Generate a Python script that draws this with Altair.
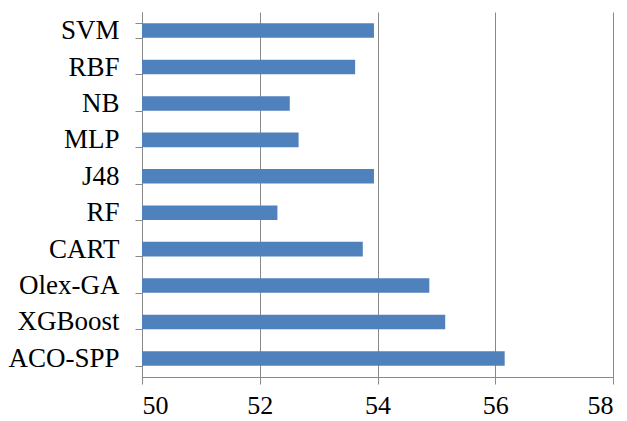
import altair as alt
import pandas as pd

categories = ["SVM", "RBF", "NB", "MLP", "J48", "RF", "CART", "Olex-GA", "XGBoost", "ACO-SPP"]
values = [53.94, 53.62, 52.51, 52.66, 53.94, 52.30, 53.75, 54.88, 55.15, 56.16]
x_ticks = [50, 52, 54, 56, 58]

df = pd.DataFrame({"method": categories, "value": values})

font = "'Times New Roman', 'Liberation Serif', 'DejaVu Serif', serif"
gray = "#898989"

chart = alt.Chart(df).mark_bar(color="#4F81BD", clip=True).encode(
    y=alt.Y(
        "method:N",
        sort=categories,
        title=None,
        scale=alt.Scale(paddingInner=0.6, paddingOuter=0.31),
        axis=alt.Axis(
            tickBand="extent",
            tickSize=7,
            tickColor=gray,
            domainColor=gray,
            labelFont=font,
            labelFontSize=27,
            labelColor="black",
            labelPadding=16,
            grid=False,
        ),
    ),
    x=alt.X(
        "value:Q",
        title=None,
        scale=alt.Scale(domain=[50, 58], nice=False, zero=False),
        axis=alt.Axis(
            values=x_ticks,
            tickSize=7,
            tickColor=gray,
            domainColor=gray,
            gridColor=gray,
            grid=True,
            labelFont=font,
            labelFontSize=26,
            labelColor="black",
            labelPadding=8,
        ),
    ),
).properties(
    width=471,
    height=365,
    autosize=alt.AutoSizeParams(type="none"),
    padding={"left": 134, "top": 4, "right": 6, "bottom": 46},
).configure_view(stroke=None)

chart.save("out.html", embed_options={"renderer": "svg", "actions": False})
